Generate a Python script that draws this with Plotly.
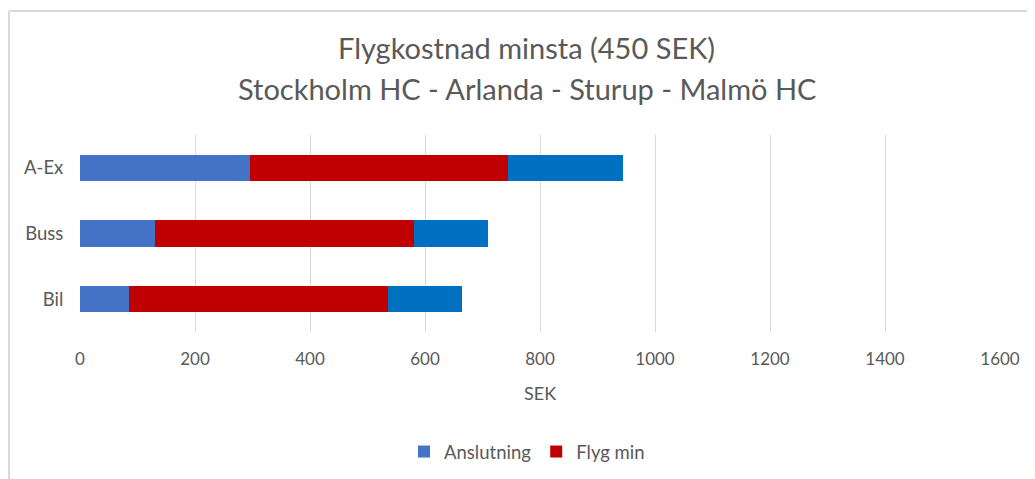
import plotly.graph_objects as go

categories = ["Bil", "Buss", "A-Ex"]
anslutning = [85, 130, 295]
flyg_min = [450, 450, 450]
anslutning_malmo = [130, 130, 200]
x_ticks = [0, 200, 400, 600, 800, 1000, 1200, 1400, 1600]

FONT = "Lato"
GRAY = "#595959"

fig = go.Figure()
fig.add_trace(go.Bar(y=categories, x=anslutning, orientation="h", name="Anslutning",
                     marker=dict(color="#4472C4", line=dict(width=0))))
fig.add_trace(go.Bar(y=categories, x=flyg_min, orientation="h", name="Flyg min",
                     marker=dict(color="#C00000", line=dict(width=0))))
fig.add_trace(go.Bar(y=categories, x=anslutning_malmo, orientation="h", name="Anslutning Malmö",
                     showlegend=False, marker=dict(color="#0070C0", line=dict(width=0))))

# page has an 8px body margin; plot area in window px: x 80..1000, y 135..332
OFF = 8
L, R, T, B = 80, 1000, 135, 332
W, H = R - L, B - T
def px(x): return (x - L) / W
def py(y): return (B - y) / H

fig.update_layout(
    width=1035, height=479,
    margin=dict(l=L - OFF, r=1035 - (R - OFF), t=T - OFF, b=479 - (B - OFF), pad=0),
    barmode="stack", bargap=0.6,
    plot_bgcolor="white", paper_bgcolor="white",
    font=dict(family=FONT, color=GRAY, size=17),
    showlegend=True,
    legend=dict(orientation="h", x=px(527), xanchor="center", y=py(452), yanchor="middle",
                font=dict(size=18.5, color=GRAY), itemwidth=30, traceorder="normal"),
    xaxis=dict(range=[0, 1600], tickvals=x_ticks, showgrid=True, gridcolor="#D9D9D9", gridwidth=1,
               zeroline=False, showline=False, ticks="outside", ticklen=12,
               tickcolor="rgba(0,0,0,0)", tickfont=dict(size=17, color=GRAY), fixedrange=True),
    yaxis=dict(categoryorder="array", categoryarray=categories, showgrid=False, zeroline=False,
               showline=False, ticks="outside", ticklen=12, tickcolor="rgba(0,0,0,0)",
               tickfont=dict(size=18.5, color=GRAY)),
    annotations=[
        dict(text="Flygkostnad minsta (450 SEK)", x=px(526), y=py(48), xref="paper", yref="paper",
             showarrow=False, xanchor="center", yanchor="middle", font=dict(size=29, color=GRAY)),
        dict(text="Stockholm HC - Arlanda - Sturup - Malmö HC", x=px(527), y=py(88), xref="paper",
             yref="paper", showarrow=False, xanchor="center", yanchor="middle",
             font=dict(size=29, color=GRAY)),
        dict(text="SEK", x=px(540), y=py(393), xref="paper", yref="paper", showarrow=False,
             xanchor="center", yanchor="middle", font=dict(size=18, color=GRAY)),
    ],
    shapes=[
        dict(type="line", xref="paper", yref="paper", x0=px(9), x1=px(1040), y0=py(11), y1=py(11),
             line=dict(color="#D9D9D9", width=2), layer="below"),
        dict(type="line", xref="paper", yref="paper", x0=px(9), x1=px(9), y0=py(11), y1=py(490),
             line=dict(color="#D9D9D9", width=2), layer="below"),
    ],
)

fig.write_html("out.html")
